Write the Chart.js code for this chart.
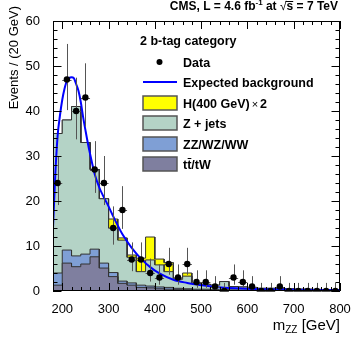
<!DOCTYPE html>
<html>
<head>
<meta charset="utf-8">
<script src="https://cdn.jsdelivr.net/npm/chart.js@4.4.1/dist/chart.umd.min.js"></script>
<style>
  html, body { margin: 0; padding: 0; background: #fff; }
  #wrap { width: 357px; height: 343px; }
</style>
</head>
<body>
<div id="wrap"><canvas id="grafico" width="357" height="343"></canvas></div>
<script>
// m_ZZ bins, 20 GeV wide, lower edges
const binLow = [180,200,220,240,260,280,300,320,340,360,380,400,420,440,460,480,
                500,520,540,560,580,600,620,640,660,680,700,720,740,760,780];
const binWidth = 20;

// observed events
const dataCounts = [24,47,40,43,27,24,14,18,7,7,4,3,6,3,6,2,2,1,0,3,2,1,0,0,1,0,0,0,0,0,0];
const dataErrLo = [4.9,6.8,6.3,6.5,5.2,4.9,3.7,4.2,2.6,2.6,1.9,1.6,2.4,1.6,2.4,1.3,1.3,0.8,0,1.6,1.3,0.8,0,0,0.8,0,0,0,0,0,0];
const dataErrHi = [6.0,7.9,7.4,7.6,6.3,6.0,4.8,5.3,3.8,3.8,3.2,2.9,3.6,2.9,3.6,2.6,2.6,2.3,1.8,2.9,2.6,2.3,1.8,1.8,2.3,1.8,1.8,1.8,1.8,1.8,1.8];

// stacked MC contributions (per bin)
const ttbar = [1.3,6.2,5.4,6.0,7.6,5.1,3.2,1.7,1.3,0.8,0.7,0.5,0.4,0.3,0.3,0.2,0.2,0.15,0.1,0.1,0.1,0.1,0.05,0.05,0.05,0.05,0,0,0,0,0];
const diboson = [2.7,2.9,2.4,2.2,1.7,1.1,0.9,0.5,0.5,0.5,0.4,0.4,0.4,0.3,0.2,0.2,0.2,0.15,0.2,0.15,0.1,0.1,0.1,0.1,0.05,0.05,0.1,0.1,0.05,0.05,0.05];
const zjets = [31,28.9,33.2,24.8,17.7,14.3,9.9,9.1,5.7,3.0,5.8,4.9,3.5,2.0,2.8,1.2,1.1,1.0,1.8,0.75,0.7,0.6,0.45,0.45,0.4,0.4,0.3,0.3,0.3,0.25,0.25];
const signal = [0,0,0,0,0,0,2,0.5,0.5,3.0,5.1,1.3,2.0,0.3,0.7,0.3,0,0,0,0,0,0,0,0,0,0,0,0,0,0,0];

// expected background fit
const fitX = [180,185,190,195,200,205,210,220,225,230,235,240,245,250,255,260,270,280,290,300,310,330,350,370,390,410,440,470,500,530,600,700,800];
const fitY = [14,26,34.5,39,42.5,45,46.7,47.5,47.3,46,44.5,42,38.7,35.8,33,30.5,26,23,20.8,18.8,16.6,12.6,9.6,7.2,5.3,3.9,2.5,1.8,1.3,0.9,0.5,0.3,0.2];

const yTicks = [0,10,20,30,40,50,60];
const xTicks = [200,300,400,500,600,700,800];

const FONT = "'Liberation Sans', Arial, Helvetica, sans-serif";

function stackUp(parts) {
  let out = [];
  for (let i = 0; i < binLow.length; i++) {
    let s = 0;
    for (let p of parts) s += p[i];
    out.push(s);
  }
  return out;
}

function histPoints(vals) {
  let pts = [];
  for (let i = 0; i < binLow.length; i++) {
    pts.push({x: binLow[i], y: vals[i]});
    pts.push({x: binLow[i] + binWidth, y: vals[i]});
  }
  return pts;
}

const cumTT = stackUp([ttbar]);
const cumVV = stackUp([ttbar, diboson]);
const cumZ = stackUp([ttbar, diboson, zjets]);
const cumH = stackUp([ttbar, diboson, zjets, signal]);

function histDataset(label, vals, color, order) {
  return {
    label: label,
    data: histPoints(vals),
    borderColor: '#333',
    borderWidth: 1,
    backgroundColor: color,
    fill: 'origin',
    pointRadius: 0,
    tension: 0,
    order: order
  };
}

const colors = {
  sig: '#ffff00',
  zj: '#b4d3c6',
  vv: '#7f9fd5',
  tt: '#7f7f9f'
};

// inward ROOT-like ticks, frame, error bars, legend and texts
const rootStyle = {
  id: 'rootStyle',
  beforeDatasetDraw(chart, args) {
    if (args.index !== 0) return;
    const ctx = chart.ctx;
    const xs = chart.scales.x, ys = chart.scales.y;
    ctx.save();
    ctx.strokeStyle = '#555';
    ctx.lineWidth = 1;
    ctx.beginPath();
    for (let i = 0; i < binLow.length; i++) {
      const cx = xs.getPixelForValue(binLow[i] + binWidth / 2);
      const y0 = ys.getPixelForValue(dataCounts[i]);
      const yl = ys.getPixelForValue(dataCounts[i] - dataErrLo[i]);
      const yh = ys.getPixelForValue(dataCounts[i] + dataErrHi[i]);
      ctx.moveTo(Math.round(cx) + 0.5, yl);
      ctx.lineTo(Math.round(cx) + 0.5, yh);
      ctx.moveTo(xs.getPixelForValue(binLow[i]), Math.round(y0) + 0.5);
      ctx.lineTo(xs.getPixelForValue(binLow[i] + binWidth), Math.round(y0) + 0.5);
    }
    ctx.stroke();
    ctx.restore();
  },
  afterDraw(chart) {
    const ctx = chart.ctx;
    const a = chart.chartArea;
    const xs = chart.scales.x, ys = chart.scales.y;
    ctx.save();
    ctx.strokeStyle = '#000';
    ctx.lineWidth = 1;
    ctx.beginPath();
    ctx.rect(Math.round(a.left) + 0.5, Math.round(a.top) + 0.5, Math.round(a.right - a.left) - 1, Math.round(a.bottom - a.top) - 1);
    // y ticks
    for (let v = 0; v <= 60; v += 2) {
      const y = Math.round(ys.getPixelForValue(v)) + 0.5;
      const len = (v % 10 === 0) ? 8.5 : 4.5;
      ctx.moveTo(a.left, y); ctx.lineTo(a.left + len, y);
      ctx.moveTo(a.right, y); ctx.lineTo(a.right - len, y);
    }
    // x ticks
    for (let v = 180; v <= 800; v += 20) {
      const x = Math.round(xs.getPixelForValue(v)) + 0.5;
      const len = (v % 100 === 0) ? 8 : 4;
      ctx.moveTo(x, a.bottom); ctx.lineTo(x, a.bottom - len);
      ctx.moveTo(x, a.top); ctx.lineTo(x, a.top + len);
    }
    ctx.stroke();

    // header
    ctx.fillStyle = '#000';
    ctx.textBaseline = 'alphabetic';
    let parts = [
      ['CMS, L = 4.6 fb', 'bold 12px ' + FONT, 0],
      ['-1', 'bold 8px ' + FONT, -5],
      [' at ', 'bold 12px ' + FONT, 0],
      ['\u221A', '12px ' + FONT, 0],
      ['s', 'bold 12px ' + FONT, 0, 'bar'],
      [' = 7 TeV', 'bold 12px ' + FONT, 0]
    ];
    let total = 0;
    for (let p of parts) { ctx.font = p[1]; total += ctx.measureText(p[0]).width; }
    let x = 338 - total;
    for (let p of parts) {
      ctx.font = p[1];
      ctx.fillText(p[0], x, 10 + p[2]);
      const w = ctx.measureText(p[0]).width;
      if (p[3] === 'bar') { ctx.fillRect(x - 1, 1, w + 1, 1); }
      x += w;
    }

    // axis titles
    ctx.textAlign = 'right';
    const gev = ' [GeV]';
    ctx.font = '15px ' + FONT;
    const wG = ctx.measureText(gev).width;
    ctx.fillText(gev, 340, 330);
    ctx.font = '10px ' + FONT;
    const wZ = ctx.measureText('ZZ').width;
    ctx.fillText('ZZ', 340 - wG, 333);
    ctx.font = '15px ' + FONT;
    ctx.fillText('m', 340 - wG - wZ, 330);

    ctx.save();
    ctx.translate(18, 6);
    ctx.rotate(-Math.PI / 2);
    ctx.font = '13px ' + FONT;
    ctx.textAlign = 'right';
    ctx.fillText('Events / (20 GeV)', 0, 0);
    ctx.restore();

    // legend
    ctx.textAlign = 'left';
    ctx.font = 'bold 12.5px ' + FONT;
    ctx.fillText('2 b-tag category', 140, 45);
    const rowY = [62, 82, 103, 123, 144, 164];
    const labels = ['Data', 'Expected background', null, 'Z + jets', 'ZZ/WZ/WW', null];
    for (let i = 0; i < rowY.length; i++) {
      if (labels[i]) ctx.fillText(labels[i], 183, rowY[i] + 4.5);
    }
    // H(400 GeV) x 2
    let hx = 183;
    ctx.fillText('H(400 GeV)', hx, rowY[2] + 4.5);
    hx += ctx.measureText('H(400 GeV)').width + 2;
    ctx.font = '11px ' + FONT;
    ctx.fillText('\u00D7', hx, rowY[2] + 4.5);
    hx += ctx.measureText('\u00D7').width + 2;
    ctx.font = 'bold 12.5px ' + FONT;
    ctx.fillText('2', hx, rowY[2] + 4.5);
    // tt/tW
    ctx.fillText('tt/tW', 183, rowY[5] + 4.5);
    const wt = ctx.measureText('t').width;
    ctx.fillRect(183 + wt + 0.5, rowY[5] - 6, wt - 0.5, 1);

    ctx.beginPath();
    ctx.arc(159.5, rowY[0], 3, 0, Math.PI * 2);
    ctx.fill();
    ctx.strokeStyle = '#0000ff';
    ctx.lineWidth = 2;
    ctx.beginPath();
    ctx.moveTo(143, rowY[1]); ctx.lineTo(177, rowY[1]);
    ctx.stroke();
    const boxCols = [null, null, colors.sig, colors.zj, colors.vv, colors.tt];
    ctx.lineWidth = 1.5;
    ctx.strokeStyle = '#555';
    for (let i = 2; i < 6; i++) {
      ctx.fillStyle = boxCols[i];
      ctx.fillRect(143, rowY[i] - 7, 34, 14);
      ctx.strokeRect(143, rowY[i] - 7, 34, 14);
    }
    ctx.restore();
  }
};

const ctx = document.getElementById('grafico');
new Chart(ctx, {
  type: 'line',
  data: {
    datasets: [
      {
        label: 'Data',
        data: binLow.map((b, i) => ({x: b + binWidth / 2, y: dataCounts[i]})),
        showLine: false,
        pointRadius: 3.2,
        pointBackgroundColor: '#000',
        pointBorderWidth: 0,
        order: 0
      },
      {
        label: 'Expected background',
        data: fitX.map((v, i) => ({x: v, y: fitY[i]})),
        borderColor: '#0000ff',
        borderWidth: 2,
        pointRadius: 0,
        cubicInterpolationMode: 'monotone',
        fill: false,
        order: 1
      },
      histDataset('tt/tW', cumTT, colors.tt, 2),
      histDataset('ZZ/WZ/WW', cumVV, colors.vv, 3),
      histDataset('Z + jets', cumZ, colors.zj, 4),
      histDataset('H(400 GeV) x 2', cumH, colors.sig, 5)
    ]
  },
  options: {
    responsive: false,
    animation: false,
    devicePixelRatio: 1,
    layout: { padding: { left: 0, right: 17, top: 21, bottom: 0 } },
    plugins: { legend: { display: false }, tooltip: { enabled: false } },
    scales: {
      x: {
        type: 'linear',
        min: 180, max: 800,
        afterBuildTicks: s => { s.ticks = xTicks.map(v => ({value: v})); },
        afterFit: s => { s.height = 52; },
        grid: { display: false },
        border: { display: false },
        ticks: { color: '#000', padding: 3, maxRotation: 0, font: { family: FONT, size: 13 } }
      },
      y: {
        min: 0, max: 60,
        afterBuildTicks: s => { s.ticks = yTicks.map(v => ({value: v})); },
        afterFit: s => { s.width = 53; },
        grid: { display: false },
        border: { display: false },
        ticks: { color: '#000', padding: 5, font: { family: FONT, size: 13 } }
      }
    }
  },
  plugins: [rootStyle]
});
</script>
</body>
</html>
